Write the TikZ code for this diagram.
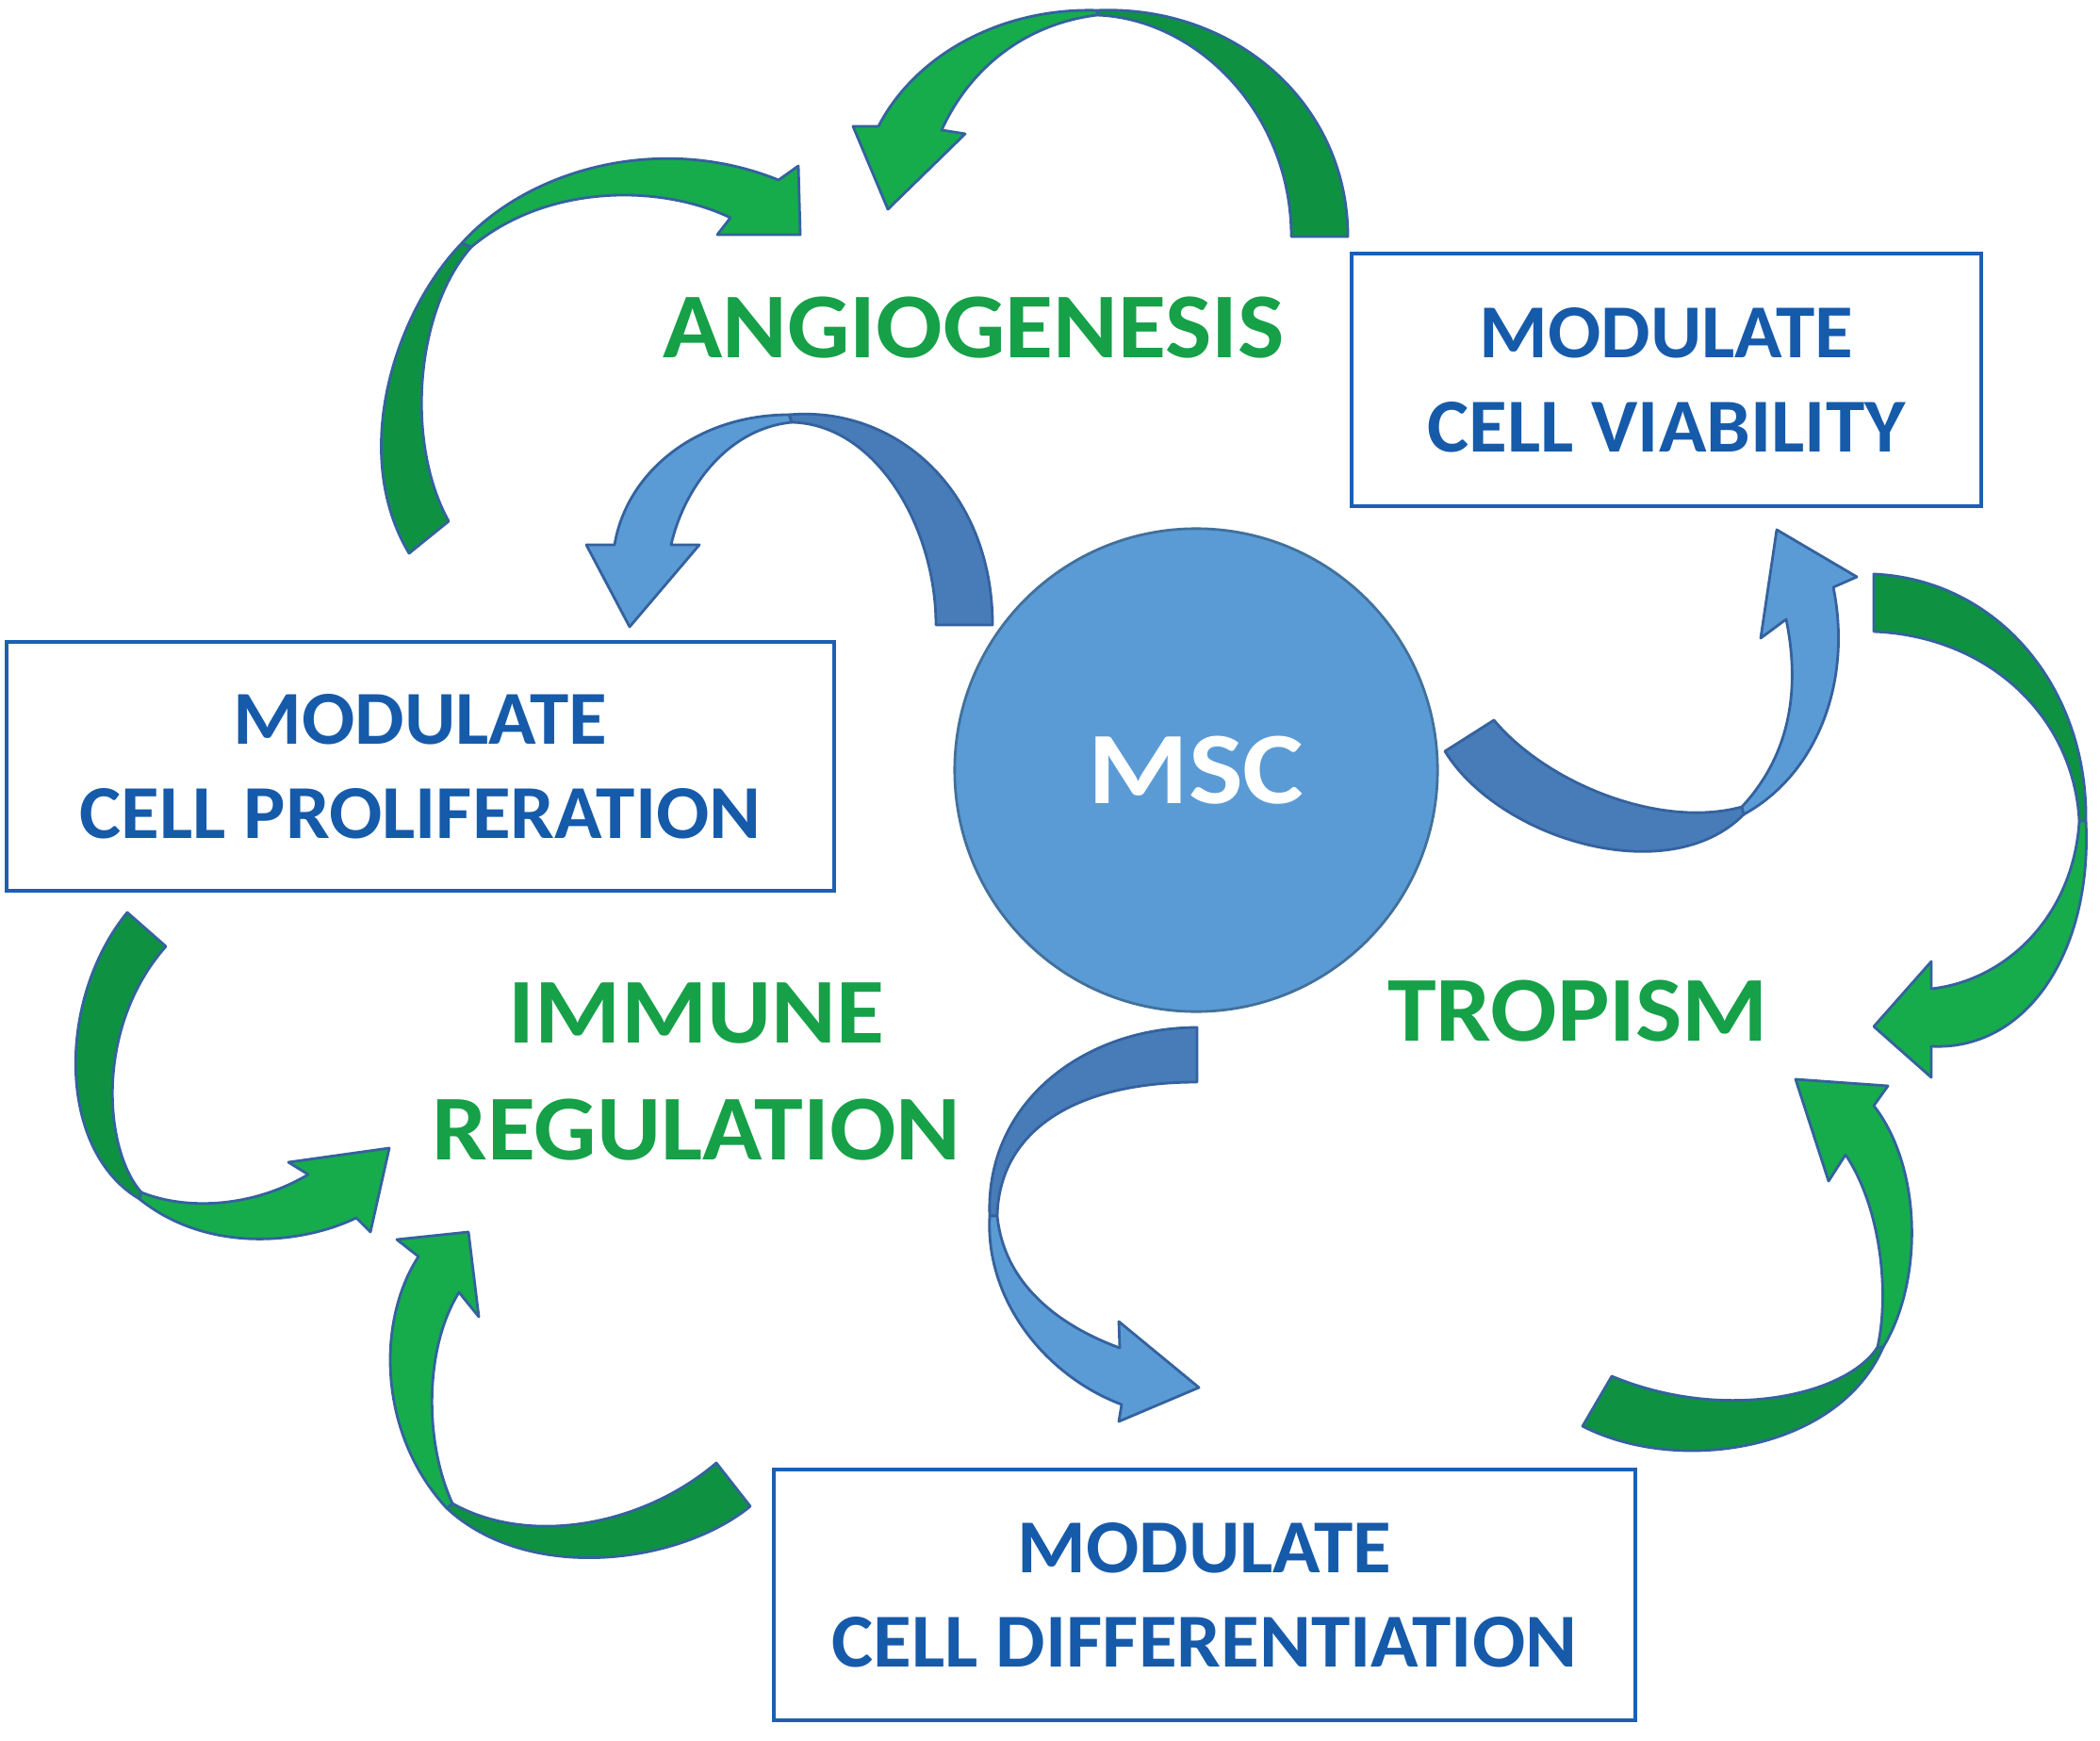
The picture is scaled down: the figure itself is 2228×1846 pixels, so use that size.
\documentclass[tikz,border=0pt]{standalone}
\usepackage{fontspec}
\setmainfont{Carlito}
\newfontfamily\boxfont{Carlito}[FakeStretch=1.03]
\newfontfamily\greenfont{Carlito}[FakeStretch=1.06]
\newfontfamily\mscfont{Carlito}[FakeStretch=1.12]
\definecolor{gLight}{RGB}{22,172,76}
\definecolor{gDark}{RGB}{14,146,66}
\definecolor{bLight}{RGB}{91,155,213}
\definecolor{bDark}{RGB}{72,124,184}
\definecolor{edgec}{RGB}{52,98,158}
\definecolor{txtBlue}{RGB}{22,90,170}
\definecolor{txtGreen}{RGB}{22,160,72}
\definecolor{boxLine}{RGB}{30,95,180}
\definecolor{circFill}{RGB}{91,155,213}
\definecolor{circLine}{RGB}{65,113,156}
\begin{document}
\begin{tikzpicture}[x=0.01cm,y=-0.01cm,
  ribbon/.style={draw=edgec, line width=0.8pt, line join=round},
  gl/.style={ribbon, fill=gLight}, gd/.style={ribbon, fill=gDark},
  bl/.style={ribbon, fill=bLight}, bd/.style={ribbon, fill=bDark},
  modbox/.style={draw=boxLine, line width=1.1pt, fill=white, inner sep=0pt, align=center, text=txtBlue, font=\boxfont\bfseries\fontsize{23}{28.5}\selectfont},
  greenlabel/.style={text=txtGreen, align=center, inner sep=0pt, font=\greenfont\bfseries\fontsize{28}{35.5}\selectfont}]
\useasboundingbox (0,0) rectangle (2228,1846);
\fill[white] (0,0) rectangle (2228,1846);

% boxes
\node[modbox, minimum width=6.68cm, minimum height=2.67cm] (viab) at (1768,403) {MODULATE\\CELL VIABILITY};
\node[modbox, minimum width=8.78cm, minimum height=2.63cm] (prolif) at (446,813) {MODULATE\\CELL PROLIFERATION};
\node[modbox, minimum width=9.14cm, minimum height=2.66cm] (diff) at (1278,1692) {MODULATE\\CELL DIFFERENTIATION};

% green labels
\node[greenlabel] (angio) at (1033,348) {ANGIOGENESIS};
\node[greenlabel] (immune) at (739,1137) {IMMUNE\\REGULATION};
\node[greenlabel] (tropism) at (1674,1073) {TROPISM};

% MSC circle
\node[circle, minimum size=5.12cm, inner sep=0pt, fill=circFill, draw=circLine, line width=0.8pt, text=white, font=\mscfont\bfseries\fontsize{31}{31}\selectfont] (msc) at (1269,817) {MSC};

% Arrow A (top, green)
\draw[gd] (1164,11) .. controls (1310,5) and (1430,110) .. (1430,251) -- (1370,251) .. controls (1370,120) and (1270,20) .. (1164,16) -- cycle;
\draw[gl] (1164,11) .. controls (1060,8) and (970,60) .. (932,134) -- (905,134) -- (942,222) -- (1024,142) -- (999,138) .. controls (1030,70) and (1090,25) .. (1164,16) -- cycle;

% Arrow B (upper left, green)
\draw[gd] (490,258) .. controls (420,330) and (370,480) .. (434,587) -- (476,553) .. controls (430,470) and (440,330) .. (500,262) -- cycle;
\draw[gl] (490,258) .. controls (560,180) and (700,140) .. (826,191) -- (847,176) -- (849,249) -- (761,249) -- (775,231) .. controls (700,195) and (580,195) .. (500,262) -- cycle;

% Arrow G (blue, MSC to proliferation)
\draw[bd] (837,440) .. controls (950,430) and (1053,520) .. (1053,663) -- (993,663) .. controls (993,560) and (930,450) .. (840,448) -- cycle;
\draw[bl] (837,440) .. controls (740,440) and (665,500) .. (652,578) -- (622,578) -- (668,665) -- (742,578) -- (712,578) .. controls (725,520) and (770,455) .. (840,448) -- cycle;

% Arrow H (blue, MSC to viability)
\draw[bd] (1533,797) .. controls (1590,890) and (1770,945) .. (1850,864) -- (1848,856) .. controls (1760,880) and (1640,830) .. (1585,764) -- cycle;
\draw[bl] (1850,864) .. controls (1930,820) and (1965,720) .. (1945,623) -- (1970,612) -- (1885,562) -- (1868,677) -- (1895,657) .. controls (1910,730) and (1900,800) .. (1848,856) -- cycle;

% Arrow I (blue, MSC to differentiation)
\draw[bd] (1270,1090) .. controls (1150,1090) and (1045,1170) .. (1050,1290) -- (1058,1290) .. controls (1060,1200) and (1140,1148) .. (1270,1148) -- cycle;
\draw[bl] (1050,1290) .. controls (1045,1380) and (1110,1460) .. (1190,1490) -- (1187,1508) -- (1272,1472) -- (1187,1402) -- (1188,1430) .. controls (1120,1405) and (1065,1360) .. (1058,1290) -- cycle;

% Arrow F (right, green)
\draw[gd] (1988,609) .. controls (2120,615) and (2215,730) .. (2213,871) -- (2206,871) .. controls (2200,760) and (2110,675) .. (1988,670) -- cycle;
\draw[gl] (2213,871) .. controls (2220,1010) and (2150,1115) .. (2049,1110) -- (2049,1143) -- (1988,1089) -- (2049,1020) -- (2049,1049) .. controls (2130,1040) and (2200,970) .. (2206,871) -- cycle;

% Arrow E (lower right, green)
\draw[gd] (1679,1513) .. controls (1780,1565) and (1950,1540) .. (1998,1429) -- (1992,1429) .. controls (1960,1480) and (1830,1510) .. (1710,1460) -- cycle;
\draw[gl] (1998,1429) .. controls (2040,1360) and (2040,1240) .. (1988,1173) -- (2003,1152) -- (1905,1145) -- (1940,1253) -- (1958,1225) .. controls (1995,1280) and (2005,1370) .. (1992,1429) -- cycle;

% Arrow C (left, green)
\draw[gd] (135,968) .. controls (60,1060) and (60,1220) .. (148,1272) -- (150,1265) .. controls (110,1220) and (100,1090) .. (176,1004) -- cycle;
\draw[gl] (148,1272) .. controls (220,1330) and (320,1320) .. (378,1292) -- (393,1307) -- (413,1218) -- (306,1233) -- (327,1246) .. controls (270,1280) and (200,1285) .. (150,1265) -- cycle;

% Arrow D (lower left, green)
\draw[gd] (796,1598) .. controls (720,1660) and (560,1680) .. (474,1600) -- (480,1595) .. controls (560,1640) and (680,1620) .. (760,1552) -- cycle;
\draw[gl] (474,1600) .. controls (400,1520) and (400,1400) .. (444,1333) -- (421,1315) -- (497,1307) -- (508,1397) -- (487,1371) .. controls (450,1430) and (450,1530) .. (480,1595) -- cycle;
\end{tikzpicture}
\end{document}
